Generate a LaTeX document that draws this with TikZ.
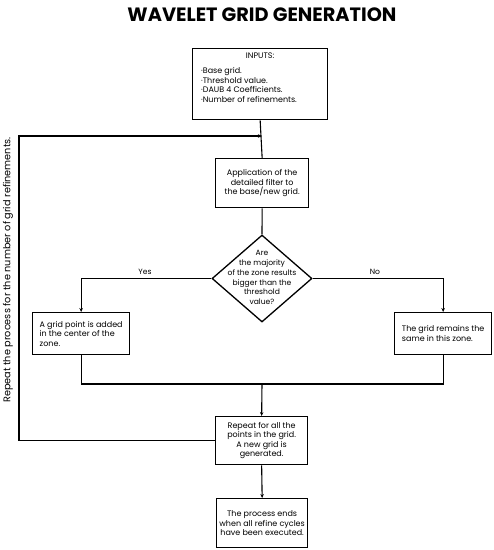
\documentclass[tikz,border=0pt]{standalone}
\usepackage{fontspec}
\setmainfont{Poppins}
\usetikzlibrary{arrows.meta,shapes.geometric}
\tikzset{
  box/.style={draw, line width=1.3pt, minimum width=93pt, minimum height=49pt, inner sep=2pt, font=\fontsize{8}{9.5}\selectfont, align=center},
  dec/.style={draw, diamond, line width=1.3pt, minimum width=100pt, minimum height=87pt, inner sep=0pt},
  dectxt/.style={font=\fontsize{7.6}{9.8}\selectfont, align=center, inner sep=0pt},
  conn/.style={line width=1.1pt},
  arr/.style={conn, -{Stealth[length=4pt,width=3.5pt]}},
  lbl/.style={font=\fontsize{7.6}{9}\selectfont}
}
\begin{document}
\begin{tikzpicture}[x=1pt,y=-1pt]
\useasboundingbox (0,0) rectangle (494,550);
\node (title) at (262,15) {\fontsize{19.3}{22}\selectfont\bfseries WAVELET GRID GENERATION};
\node[box, minimum width=135pt, minimum height=71pt, anchor=north west, inner sep=0pt] (inputs) at (192,48)
 {\parbox[c][69pt][t]{126pt}{\vspace{3pt}\centering INPUTS:\par\vspace{6pt}\raggedright
 \hspace*{4pt}·Base grid.\\ \hspace*{4pt}·Threshold value.\\ \hspace*{4pt}·DAUB 4 Coefficients.\\ \hspace*{4pt}·Number of refinements.}};
\node[box, anchor=north west] (filter) at (215,158) {Application of the\\detailed filter to\\the base/new grid.};
\node[dec] (dec) at (262,278.5) {};
\node[dectxt] (dectext) at (262,277.5) {Are\\the majority\\of the zone results\\bigger than the\\threshold\\value?};
\node[box, minimum width=97pt, minimum height=42pt, anchor=north west, align=left] (add) at (32,312) {A grid point is added\\in the center of the\\zone.};
\node[box, minimum width=97pt, minimum height=42pt, anchor=north west, align=left] (same) at (394,312) {The grid remains the\\same in this zone.};
\node[box, minimum width=92pt, minimum height=48pt, anchor=north west] (repeat) at (215,416) {Repeat for all the\\points in the grid.\\A new grid is\\generated.};
\node[box, minimum width=91pt, minimum height=49pt, anchor=north west] (end) at (216,498) {The process ends\\when all refine cycles\\have been executed.};
\node[lbl] (yes) at (145,272) {Yes};
\node[lbl] (no) at (375,272) {No};
\node[rotate=90, font=\fontsize{9.7}{11}\selectfont] (side) at (8,270) {Repeat the process for the number of grid refinements.};
\coordinate (merge) at (262,384);
\coordinate (loopin) at (262,136);
\coordinate (c1) at (19,442);
\coordinate (c2) at (19,136);
\draw[conn] (inputs.south) -- (filter.north);
\draw[conn] (filter.south) -- (dec.north);
\draw[arr] (dec.west) -| (add.north);
\draw[arr] (dec.east) -| (same.north);
\draw[conn] (add.south) |- (merge) -| (same.south);
\draw[arr] (merge) -- (repeat.north);
\draw[arr] (repeat.south) -- (end.north);
\draw[arr] (repeat.west) -- (repeat.west -| c1) -- (c2) -- (loopin);
\end{tikzpicture}
\end{document}
